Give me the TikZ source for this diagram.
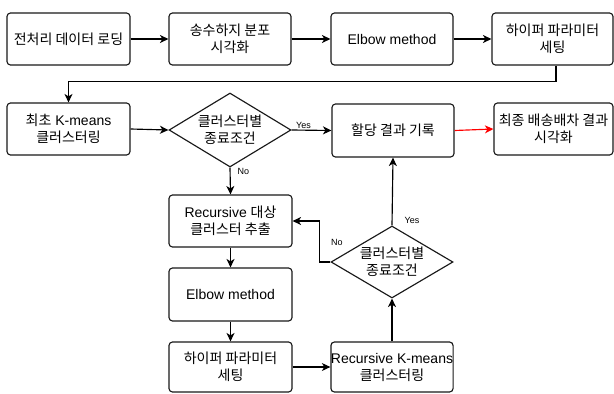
\documentclass[tikz,border=0pt]{standalone}
\usepackage{fontspec}
\setmainfont{Liberation Sans}
\newfontfamily\kr{Noto Sans CJK KR}
\usetikzlibrary{arrows.meta,shapes.geometric}
\begin{document}
\begin{tikzpicture}[x=1pt,y=-1pt,
  box/.style={draw=black!90, line width=1.15pt, rounded corners=3.5pt, align=center, inner sep=0pt,
    minimum width=123pt, minimum height=52pt, font=\fontsize{14}{17}\selectfont},
  dia/.style={draw=black!90, line width=1.15pt, shape=diamond, aspect=1.65, align=center, inner sep=0pt,
    minimum width=122pt, minimum height=74pt, font=\fontsize{14}{17}\selectfont},
  arr/.style={line width=1.15pt, -{Stealth[length=8.5pt,width=8pt,inset=2.5pt]}},
  lbl/.style={font=\fontsize{9}{10}\selectfont, inner sep=1pt}]
\useasboundingbox (0,0) rectangle (614,394);

\node[box] (b1) at (68.5,39) {\kr 전처리 데이터 로딩};
\node[box, minimum width=122pt] (b2) at (230,39) {\kr 송수하지 분포\\\kr 시각화};
\node[box, minimum width=122pt] (b3) at (392,39) {Elbow method};
\node[box, minimum width=121pt] (b4) at (552.5,39) {\kr 하이퍼 파라미터\\\kr 세팅};

\node[box] (b5) at (68.5,129) {{\kr 최초} K-means\\\kr 클러스터링};
\node[dia] (d1) at (230,130) {\kr 클러스터별\\\kr 종료조건};
\node[box, minimum width=122pt, minimum height=53pt] (b6) at (393,130.5) {\kr 할당 결과 기록};
\node[box, minimum width=119pt] (b7) at (553.5,129) {\kr 최종 배송배차 결과\\\kr 시각화};

\node[box] (b8) at (230.5,221) {Recursive {\kr 대상}\\\kr 클러스터 추출};
\node[dia, minimum height=72pt] (d2) at (392,262) {\kr 클러스터별\\\kr 종료조건};
\node[box, minimum height=53pt] (b9) at (230.5,294.5) {Elbow method};
\node[box, minimum height=50pt] (b10) at (230.5,367) {\kr 하이퍼 파라미터\\\kr 세팅};
\node[box, minimum width=122pt, minimum height=50pt] (b11) at (392,367) {Recursive K-means\\\kr 클러스터링};

\draw[arr] (b1) -- (b2);
\draw[arr] (b2) -- (b3);
\draw[arr] (b3) -- (b4);
\draw[arr] ([xshift=3.5pt]b4.south) -- ++(0,16) -| (b5.north);
\draw[arr] (b5.east) -- (d1.west);
\draw[arr] (d1.east) -- node[lbl, above, pos=0.3] {Yes} (b6.west);
\draw[arr, red] (b6.east) -- (b7.west);
\draw[arr] (d1.south) -- node[lbl, right, pos=0.15, xshift=6pt] {No} (b8.north);
\draw[arr] (b8) -- (b9);
\draw[arr] (b9) -- (b10);
\draw[arr] (b10) -- (b11);
\draw[arr] (b11.north) -- (d2.south);
\draw[arr] (d2.north) -- node[lbl, right, pos=0.08, xshift=11pt] {Yes} (b6.south);
\draw[arr] (d2.west) -- ++(-11,0) coordinate (c1) |- (b8.east);
\node[lbl] (no2) at (337,242) {No};
\end{tikzpicture}
\end{document}
